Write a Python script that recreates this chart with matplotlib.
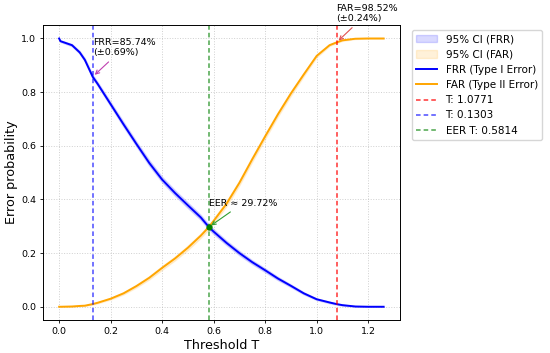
import numpy as np
import matplotlib
matplotlib.use("Agg")
import matplotlib.pyplot as plt

# thresholds and error rates
thresholds = [0.0, 0.005, 0.05, 0.08, 0.10, 0.1303, 0.15, 0.20, 0.25, 0.30, 0.35,
              0.40, 0.45, 0.50, 0.55, 0.5814, 0.60, 0.65, 0.70, 0.75, 0.80, 0.85,
              0.90, 0.95, 1.00, 1.05, 1.0771, 1.10, 1.15, 1.20, 1.26]
frr = [1.000, 0.990, 0.975, 0.948, 0.920, 0.8574, 0.830, 0.755, 0.680, 0.607, 0.536,
       0.474, 0.424, 0.378, 0.333, 0.2972, 0.280, 0.238, 0.200, 0.166, 0.136, 0.105,
       0.078, 0.050, 0.028, 0.016, 0.010, 0.006, 0.001, 0.000, 0.000]
far = [0.000, 0.000, 0.001, 0.003, 0.004, 0.010, 0.015, 0.030, 0.050, 0.077, 0.108,
       0.145, 0.180, 0.220, 0.265, 0.2972, 0.320, 0.384, 0.462, 0.550, 0.635, 0.718,
       0.795, 0.866, 0.935, 0.975, 0.9852, 0.993, 0.999, 1.000, 1.000]
# 95% CI half widths
frr_ci = [0.000, 0.003, 0.004, 0.005, 0.006, 0.0069, 0.007, 0.008, 0.009, 0.009, 0.010,
          0.010, 0.010, 0.010, 0.009, 0.009, 0.009, 0.008, 0.008, 0.007, 0.007, 0.006,
          0.005, 0.004, 0.003, 0.003, 0.002, 0.002, 0.001, 0.000, 0.000]
far_ci = [0.000, 0.000, 0.001, 0.001, 0.001, 0.002, 0.002, 0.003, 0.004, 0.005, 0.006,
          0.007, 0.007, 0.008, 0.008, 0.008, 0.008, 0.009, 0.009, 0.009, 0.009, 0.008,
          0.008, 0.006, 0.005, 0.003, 0.0024, 0.002, 0.001, 0.000, 0.000]

t_far = 1.0771
t_frr = 0.1303
eer_t = 0.5814
eer = 0.2972
frr_at = 0.8574
frr_at_ci = 0.0069
far_at = 0.9852
far_at_ci = 0.0024

t = np.array(thresholds)
frr = np.array(frr)
far = np.array(far)
frr_ci = np.array(frr_ci)
far_ci = np.array(far_ci)

fig = plt.figure(figsize=(5.5, 3.53), dpi=100)
ax = fig.add_axes([0.078, 0.093, 0.649, 0.836])

ax.fill_between(t, frr - frr_ci, frr + frr_ci, color='blue', alpha=0.15, label='95% CI (FRR)')
ax.fill_between(t, far - far_ci, far + far_ci, color='orange', alpha=0.15, label='95% CI (FAR)')
ax.plot(t, frr, color='blue', lw=1.4, label='FRR (Type I Error)')
ax.plot(t, far, color='orange', lw=1.4, label='FAR (Type II Error)')

dash = (0, (3, 2))
ax.axvline(t_far, color='red', ls=dash, lw=1.1, alpha=0.8, label=f'T: {t_far:.4f}')
ax.axvline(t_frr, color='blue', ls=dash, lw=1.1, alpha=0.7, label=f'T: {t_frr:.4f}')
ax.axvline(eer_t, color='green', ls=dash, lw=1.1, alpha=0.7, label=f'EER T: {eer_t:.4f}')

ax.plot(eer_t, eer, 'o', color='green', ms=3.5)

ax.annotate(f'FRR={frr_at*100:.2f}%\n(±{frr_at_ci*100:.2f}%)', xy=(t_frr, frr_at),
            xytext=(t_frr, frr_at + 0.08), fontsize=6.8,
            arrowprops=dict(arrowstyle='->', color='#c040b0', lw=0.8))
ax.annotate(f'FAR={far_at*100:.2f}%\n(±{far_at_ci*100:.2f}%)', xy=(t_far, far_at),
            xytext=(t_far, far_at + 0.08), fontsize=6.8, annotation_clip=False,
            arrowprops=dict(arrowstyle='->', color='#e05050', lw=0.8))
ax.annotate(f'EER ≈ {eer*100:.2f}%', xy=(eer_t, eer),
            xytext=(eer_t, eer + 0.08), fontsize=6.8,
            arrowprops=dict(arrowstyle='->', color='#30a030', lw=0.8))

ax.set_xlabel('Threshold T', fontsize=9.2, labelpad=2.5)
ax.set_ylabel('Error probability', fontsize=9.2, labelpad=2.5)
ax.tick_params(labelsize=6.8, length=2.5, width=0.6, pad=2.4)
for s in ax.spines.values():
    s.set_linewidth(0.7)
ax.grid(True, linestyle=':', alpha=0.6, lw=0.7)
ax.legend(loc='upper left', bbox_to_anchor=(1.02, 1), fontsize=7.5)

fig.savefig('out.png', dpi=100)
